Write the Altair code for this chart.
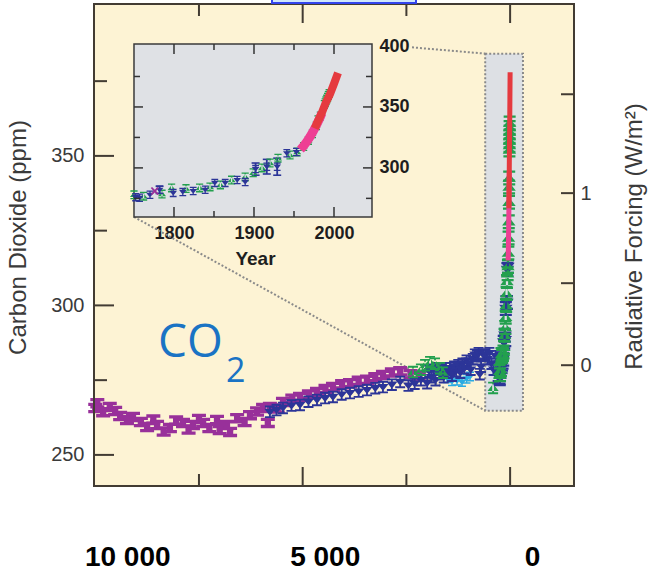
import math
import altair as alt
import pandas as pd

# ---------------- data ----------------
# Holocene ice-core CO2: x = years before 2005, y = ppm
holo_magenta_bp = [10000, 9950, 9810, 9650, 9520, 9400, 9235, 9090, 8900, 8750,
                   8600, 8510, 8350, 8200, 8050, 7885, 7750, 7645, 7500, 7400,
                   7250, 7065, 7000, 6825, 6750, 6580, 6400, 6270, 6100, 5955,
                   5840, 5790, 5600, 5475, 5250, 5065, 4850, 4655, 4450, 4270,
                   4050, 3860, 3650, 3450, 3250, 3065, 2850, 2650, 2400, 2200]
holo_magenta_ppm = [265.7, 267.3, 264.3, 266.0, 264.7, 263.0, 261.7, 262.7, 261.0, 259.3,
                    261.8, 260.0, 257.8, 259.0, 261.5, 260.7, 258.5, 260.0, 262.0, 260.7,
                    259.0, 261.7, 258.3, 260.0, 257.7, 262.3, 261.0, 263.3, 264.5, 265.7,
                    260.7, 266.0, 265.5, 267.7, 268.8, 269.4, 270.2, 271.0, 272.0, 272.7,
                    273.6, 274.0, 274.8, 275.1, 276.0, 276.7, 277.6, 278.0, 277.0, 276.3]

holo_blue_bp = [5790, 5630, 5475, 5270, 5065, 4860, 4655, 4460, 4270, 4060,
                3860, 3650, 3450, 3250, 3065, 2850, 2650, 2450, 2300, 2150,
                2000, 1950, 1900, 1850, 1800, 1750, 1700, 1650, 1600, 1550,
                1500, 1450, 1400, 1350, 1300, 1250, 1200, 1150, 1100, 1050,
                1000, 950, 900, 850, 800, 760, 730, 700, 650, 600,
                550, 500, 450, 400, 350, 300, 270]
holo_blue_ppm = [264.4, 265.0, 265.7, 266.5, 266.7, 267.8, 268.4, 269.0, 269.4, 270.2,
                 270.7, 271.2, 271.7, 272.3, 272.7, 273.5, 274.4, 273.2, 273.8, 275.0,
                 274.0, 278.0, 276.0, 278.5, 275.0, 279.0, 277.0, 278.5, 276.0, 279.0,
                 277.5, 279.0, 276.5, 279.5, 278.0, 280.0, 277.5, 280.5, 279.0, 281.5,
                 280.5, 278.5, 282.0, 283.5, 283.0, 284.0, 277.0, 279.5, 283.5, 283.5,
                 282.0, 284.0, 280.5, 278.5, 283.0, 276.5, 280.5]

holo_green_bp = [2340, 2150, 2050, 1930, 1810, 1690, 1620, 410]
holo_green_ppm = [277.7, 278.5, 280.0, 281.0, 280.5, 279.0, 277.5, 272.4]

holo_cyan_bp = [1520, 1400, 1280, 1160, 1050, 967]
holo_cyan_ppm = [275.6, 274.6, 274.8, 274.4, 275.5, 276.2]

# Industrial era (calendar years), shown in the inset and in the grey box
mod_blue_year = [1752, 1757, 1770, 1782, 1799, 1811, 1824, 1839, 1851, 1864,
                 1879, 1889, 1902, 1916, 1929, 1941, 1953]
mod_blue_ppm = [276.0, 275.5, 277.9, 282.0, 279.5, 280.3, 281.0, 282.0, 287.7, 287.7,
                290.0, 288.5, 299.0, 301.0, 301.0, 312.0, 313.0]
mod_blue_err = [1.5, 1.5, 1.5, 3.0, 1.5, 1.5, 1.5, 1.5, 1.5, 1.5,
                1.5, 1.5, 5.0, 6.0, 7.0, 1.5, 1.5]

mod_green_year = [1750, 1762, 1785, 1797, 1815, 1832, 1845, 1858, 1872, 1889,
                  1899, 1910, 1920, 1930, 1945, 1954, 1962, 1968, 1973, 1978,
                  1980, 1983, 1988, 1989, 1990, 1991, 1992, 1993, 1994]
mod_green_ppm = [277.9, 276.8, 278.5, 283.6, 283.0, 283.6, 284.4, 286.0, 290.0, 292.6,
                 296.0, 300.0, 304.0, 308.0, 310.6, 313.0, 317.5, 322.5, 328.0, 334.5,
                 339.6, 342.6, 352.0, 353.5, 355.0, 356.5, 358.0, 359.5, 361.0]

mod_magenta_year = [1776]
mod_magenta_ppm = [281.0]

pink_year = [1958, 1962, 1966, 1970, 1974, 1978, 1982, 1985]
pink_ppm = [315.0, 318.0, 321.5, 325.5, 330.0, 335.0, 340.5, 345.0]
red_year = [1976, 1980, 1985, 1990, 1995, 2000, 2005]
red_ppm = [332.5, 338.5, 345.5, 354.0, 360.5, 369.0, 378.0]

# axis ticks / labels
main_x_major = [5000, 0]
main_x_minor = [7500, 2500]
main_x_labels = [10000, 5000, 0]
main_y_major = [250, 300, 350]
main_y_minor = [275, 325, 375]
rf_ticks = [0, 0.5, 1, 1.5]          # W/m2, RF = 5.35 ln(C / 280)
rf_labels = [0, 1]
inset_x_major = [1800, 1900, 2000]
inset_x_minor = [1850, 1950]
inset_y_major = [300, 350]
inset_y_minor = [275, 325, 375]
inset_y_labels = [300, 350, 400]

# grey highlight box and inset placement (main-chart units)
box_bp = [600, -310]
box_ppm = [264.8, 384.2]
inset_bp = [9066, 3329]
inset_ppm = [329.6, 387.4]
inset_year_dom = [1750, 2047.5]
inset_ppm_dom = [259.8, 401.6]
connector_from = [(2365, 386.3), (9066, 329.6)]
connector_to = [(600, 384.2), (600, 264.8)]

annot_text = ["CO", "2"]
annot_bp = [8487, 6848]
annot_ppm = [282.7, 274.4]
annot_size = [46, 34]

# ---------------- layout & styles ----------------
W, H = 480, 482
X_DOM = [-1540, 10030]
Y_DOM = [239.6, 400.8]


def sx(v):
    return (X_DOM[1] - v) / (X_DOM[1] - X_DOM[0]) * W


def sy(v):
    return (Y_DOM[1] - v) / (Y_DOM[1] - Y_DOM[0]) * H


X_MAIN = alt.Scale(domain=X_DOM, reverse=True, nice=False, zero=False)
Y_MAIN = alt.Scale(domain=Y_DOM, nice=False, zero=False)
IX0, IX1 = sx(inset_bp[0]), sx(inset_bp[1])
IY0, IY1 = sy(inset_ppm[0]), sy(inset_ppm[1])
X_IN = alt.Scale(domain=inset_year_dom, range=[IX0, IX1], nice=False, zero=False)
Y_IN = alt.Scale(domain=inset_ppm_dom, range=[IY0, IY1], nice=False, zero=False)

FONT = "Liberation Sans, Arial, Helvetica, sans-serif"
C_MAG = "#98309a"
C_BLUE = "#2c3598"
C_GREEN = "#23a04e"
C_CYAN = "#2aabe2"
C_RED = "#e53a3f"
C_PINK = "#ee3f94"
BG = "#fdf3d4"
GREY = "#dde0e4"
FRAME = "#423b33"
DOT = "#8a8a8a"
CO2_BLUE = "#1a73c4"
TXT = "#3a3a3a"

IBEAM = "M-1,-0.75H1V-0.28H0.45V0.28H1V0.75H-1V0.28H-0.45V-0.28H-1Z"
TDOWN = ("M-0.9,-0.5H0.9L0,0.65Z M-0.8,-1H0.8V-0.7H-0.8Z "
         "M-0.8,0.7H0.8V1H-0.8Z M-0.15,-1H0.15V1H-0.15Z")
TUP = ("M-0.9,0.5H0.9L0,-0.65Z M-0.8,-1H0.8V-0.7H-0.8Z "
       "M-0.8,0.7H0.8V1H-0.8Z M-0.15,-1H0.15V1H-0.15Z")
XMARK = ("M-0.9,-0.7L-0.6,-0.9L0,-0.3L0.6,-0.9L0.9,-0.7L0.3,0L0.9,0.7"
         "L0.6,0.9L0,0.3L-0.6,0.9L-0.9,0.7L-0.3,0Z")
CAP = "M-1,-0.2H1V0.2H-1Z"

# ---------------- tables ----------------
df_hmag = pd.DataFrame({"bp": holo_magenta_bp, "ppm": holo_magenta_ppm})
df_hblue = pd.DataFrame({"bp": holo_blue_bp, "ppm": holo_blue_ppm})
df_hgreen = pd.DataFrame({"bp": holo_green_bp, "ppm": holo_green_ppm})
df_hcyan = pd.DataFrame({"bp": holo_cyan_bp, "ppm": holo_cyan_ppm})
df_mblue = pd.DataFrame({"year": mod_blue_year, "ppm": mod_blue_ppm, "err": mod_blue_err})
df_mgreen = pd.DataFrame({"year": mod_green_year, "ppm": mod_green_ppm})
df_mmag = pd.DataFrame({"year": mod_magenta_year, "ppm": mod_magenta_ppm})
df_pink = pd.DataFrame({"year": pink_year, "ppm": pink_ppm})
df_red = pd.DataFrame({"year": red_year, "ppm": red_ppm})
df_err = df_mblue[df_mblue["err"] > 2].copy()
df_err["lo"] = df_err["ppm"] - df_err["err"]
df_err["hi"] = df_err["ppm"] + df_err["err"]
df_caps = pd.DataFrame({"year": list(df_err["year"]) * 2,
                        "ppm": list(df_err["lo"]) + list(df_err["hi"])})


def pts(df, x, scx, scy, shape, color, size, calc=False):
    ch = alt.Chart(df)
    if calc:
        ch = ch.transform_calculate(bp="2005 - datum.year")
    return ch.mark_point(shape=shape, filled=True, color=color, size=size,
                         opacity=1, strokeWidth=0).encode(
        x=alt.X(x, type="quantitative", scale=scx, axis=None),
        y=alt.Y("ppm", type="quantitative", scale=scy, axis=None))


def line(df, scx, scy, color, width, calc=False):
    ch = alt.Chart(df)
    x = "year"
    if calc:
        ch = ch.transform_calculate(bp="2005 - datum.year")
        x = "bp"
    return ch.mark_line(color=color, strokeWidth=width).encode(
        x=alt.X(x, type="quantitative", scale=scx, axis=None),
        y=alt.Y("ppm", type="quantitative", scale=scy, axis=None))


def vticks(vals, scale, y0, y1, width=2, color=FRAME, axis=None):
    return alt.Chart(pd.DataFrame({"v": vals})).mark_rule(color=color, strokeWidth=width).encode(
        x=alt.X("v:Q", scale=scale, axis=axis), y=alt.value(y0), y2=alt.value(y1))


def hticks(vals, scale, x0, x1, width=2, color=FRAME, axis=None):
    return alt.Chart(pd.DataFrame({"v": vals})).mark_rule(color=color, strokeWidth=width).encode(
        y=alt.Y("v:Q", scale=scale, axis=axis), x=alt.value(x0), x2=alt.value(x1))


def rect(bp, ppm, **kw):
    df = pd.DataFrame({"b0": [bp[0]], "b1": [bp[1]], "p0": [ppm[0]], "p1": [ppm[1]]})
    return alt.Chart(df).mark_rect(**kw).encode(
        x=alt.X("b0:Q", scale=X_MAIN, axis=None), x2="b1:Q",
        y=alt.Y("p0:Q", scale=Y_MAIN, axis=None), y2="p1:Q")


# ---------------- axes ----------------
left_axis = alt.Axis(orient="left", values=main_y_major, ticks=False, tickSize=0, domain=False,
                     grid=False, labelPadding=10, labelFont=FONT, labelFontSize=20,
                     labelColor=TXT, format="d", title="Carbon Dioxide (ppm)",
                     titleFont=FONT, titleFontSize=24, titleFontWeight="normal",
                     titleColor=TXT, titleAngle=270, titleX=-76, titleY=233,
                     titleAlign="center", titleBaseline="middle")
rf_ppm = [280 * math.exp(r / 5.35) for r in rf_ticks]
rf_label_ppm = [280 * math.exp(r / 5.35) for r in rf_labels]
right_axis = alt.Axis(orient="right", values=rf_label_ppm, ticks=False, tickSize=0, domain=False,
                      grid=False, labelPadding=6, labelFont=FONT, labelFontSize=20,
                      labelColor=TXT, labelExpr="datum.value < 300 ? '0' : '1'",
                      title="Radiative Forcing (W/m²)", titleFont=FONT, titleFontSize=24,
                      titleFontWeight="normal", titleColor=TXT, titleAngle=270,
                      titleX=60, titleY=232, titleAlign="center", titleBaseline="middle")
bottom_axis = alt.Axis(orient="bottom", values=main_x_labels, ticks=False, tickSize=0,
                       domain=False, grid=False, labelFlush=False, labelOverlap=False,
                       labelExpr="datum.value == 10000 ? '10 000' : (datum.value == 5000 ? '5 000' : '0')",
                       labelFont=FONT, labelFontWeight="bold", labelFontSize=28,
                       labelColor="#000000", labelBaseline="alphabetic", labelPadding=79,
                       labelOffset={"condition": {"test": "datum.value == 10000", "value": 32},
                                    "value": 22},
                       title=None)
inset_x_axis = alt.Axis(orient="bottom", offset=IY0 - H, values=inset_x_major, ticks=False,
                        tickSize=0, domain=False, grid=False, labelFlush=False,
                        labelOverlap=False, format="d", labelFont=FONT, labelFontWeight="bold",
                        labelFontSize=18, labelColor="#1e1e1e", labelPadding=8,
                        title="Year", titleFont=FONT, titleFontSize=19, titleFontWeight="bold",
                        titleColor="#1e1e1e", titleX=161, titleY=48,
                        titleBaseline="alphabetic", titleAlign="center")
inset_y_axis = alt.Axis(orient="right", offset=IX1 - W, values=inset_y_labels, ticks=False,
                        tickSize=0, domain=False, grid=False, labelFlush=False,
                        labelOverlap=False, format="d", labelFont=FONT, labelFontWeight="bold",
                        labelFontSize=18, labelColor="#1e1e1e", labelPadding=7, title=None)

# ---------------- layers ----------------
layers = []
# grey highlight box (industrial era)
layers.append(rect(box_bp, box_ppm, fill=GREY, stroke=DOT, strokeWidth=2, strokeDash=[2, 2]))
# dotted connectors
df_con = pd.DataFrame({"x": [c[0] for c in connector_from], "y": [c[1] for c in connector_from],
                       "x2": [c[0] for c in connector_to], "y2": [c[1] for c in connector_to]})
layers.append(alt.Chart(df_con).mark_rule(color=DOT, strokeWidth=2, strokeDash=[2, 2]).encode(
    x=alt.X("x:Q", scale=X_MAIN, axis=None), x2="x2:Q",
    y=alt.Y("y:Q", scale=Y_MAIN, axis=None), y2="y2:Q"))

# Holocene series
layers.append(pts(df_hcyan, "bp", X_MAIN, Y_MAIN, TDOWN, C_CYAN, 100))
layers.append(pts(df_hmag, "bp", X_MAIN, Y_MAIN, IBEAM, C_MAG, 196))
layers.append(pts(df_hblue, "bp", X_MAIN, Y_MAIN, TDOWN, C_BLUE, 156))
layers.append(pts(df_hgreen, "bp", X_MAIN, Y_MAIN, TUP, C_GREEN, 156))
# industrial era squeezed at 0 BP
layers.append(pts(df_mblue, "bp", X_MAIN, Y_MAIN, TDOWN, C_BLUE, 225, calc=True))
layers.append(pts(df_mgreen, "bp", X_MAIN, Y_MAIN, TUP, C_GREEN, 225, calc=True))
layers.append(line(df_pink, X_MAIN, Y_MAIN, C_PINK, 5, calc=True))
layers.append(line(df_red, X_MAIN, Y_MAIN, C_RED, 5, calc=True))

# main frame ticks + axes
layers.append(vticks(main_x_major, X_MAIN, H - 19, H, axis=bottom_axis))
layers.append(vticks(main_x_minor, X_MAIN, H - 12, H))
layers.append(vticks(main_x_major, X_MAIN, 0, 19))
layers.append(vticks(main_x_minor, X_MAIN, 0, 12))
layers.append(hticks(main_y_major, Y_MAIN, 0, 20, axis=left_axis))
layers.append(hticks(main_y_minor, Y_MAIN, 0, 13))
layers.append(hticks(rf_ppm, Y_MAIN, W - 13, W, axis=right_axis))

# frame
layers.append(alt.Chart(pd.DataFrame({"a": [0]})).mark_rect(
    fillOpacity=0, stroke=FRAME, strokeWidth=2).encode(
    x=alt.value(0), x2=alt.value(W), y=alt.value(0), y2=alt.value(H)))
# cropped light-blue box above the frame
layers.append(alt.Chart(pd.DataFrame({"a": [0]})).mark_rect(
    fill="#cfe6fb", stroke="#3344ee", strokeWidth=2).encode(
    x=alt.value(178), x2=alt.value(322), y=alt.value(-8), y2=alt.value(-1)))

# inset
layers.append(rect(inset_bp, inset_ppm, fill="#dfe1e5", stroke="#3a3a3a", strokeWidth=1.5))
layers.append(alt.Chart(df_err).mark_rule(color=C_BLUE, strokeWidth=1.8).encode(
    x=alt.X("year:Q", scale=X_IN, axis=None),
    y=alt.Y("lo:Q", scale=Y_IN, axis=None), y2="hi:Q"))
layers.append(pts(df_caps, "year", X_IN, Y_IN, CAP, C_BLUE, 64))
layers.append(pts(df_mgreen, "year", X_IN, Y_IN, TUP, C_GREEN, 81))
layers.append(pts(df_mblue, "year", X_IN, Y_IN, TDOWN, C_BLUE, 72))
layers.append(pts(df_mmag, "year", X_IN, Y_IN, XMARK, C_MAG, 81))
layers.append(line(df_pink, X_IN, Y_IN, C_PINK, 9))
layers.append(line(df_red, X_IN, Y_IN, C_RED, 8))

IT = "#333333"
layers.append(vticks(inset_x_major, X_IN, IY0 - 10, IY0, 1.5, IT, axis=inset_x_axis))
layers.append(vticks(inset_x_minor, X_IN, IY0 - 6, IY0, 1.5, IT))
layers.append(vticks(inset_x_major, X_IN, IY1, IY1 + 10, 1.5, IT))
layers.append(vticks(inset_x_minor, X_IN, IY1, IY1 + 6, 1.5, IT))
layers.append(hticks(inset_y_major, Y_IN, IX0, IX0 + 9, 1.5, IT))
layers.append(hticks(inset_y_minor, Y_IN, IX0, IX0 + 6, 1.5, IT))
layers.append(hticks(inset_y_major, Y_IN, IX1 - 9, IX1, 1.5, IT, axis=inset_y_axis))
layers.append(hticks(inset_y_minor, Y_IN, IX1 - 6, IX1, 1.5, IT))

# CO2 label
df_annot = pd.DataFrame({"t": annot_text, "bp": annot_bp, "ppm": annot_ppm, "s": annot_size})
for i in range(len(annot_text)):
    layers.append(alt.Chart(df_annot.iloc[[i]]).mark_text(
        align="left", baseline="alphabetic", font="Open Sans", fontSize=annot_size[i],
        color=CO2_BLUE).encode(
        x=alt.X("bp:Q", scale=X_MAIN, axis=None),
        y=alt.Y("ppm:Q", scale=Y_MAIN, axis=None), text="t:N"))

chart = alt.layer(*layers).resolve_scale(x="independent", y="independent").properties(
    width=W, height=H,
    padding={"left": 94, "top": 4, "right": 82, "bottom": 86},
    autosize=alt.AutoSizeParams(type="none"),
    background="white",
).configure_view(fill=BG, stroke=None)

chart.save("out.html", embed_options={"renderer": "svg", "actions": False})
